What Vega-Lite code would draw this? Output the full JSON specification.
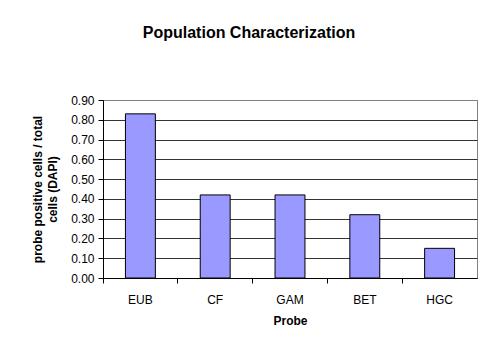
{
  "$schema": "https://vega.github.io/schema/vega-lite/v6.json",
  "autosize": "none",
  "width": 374,
  "height": 178,
  "padding": {"left": 103, "top": 100, "right": 6, "bottom": 65},
  "background": "white",
  "title": {
    "text": "Population Characterization",
    "font": "Liberation Sans",
    "fontSize": 16,
    "fontWeight": "bold",
    "color": "black",
    "anchor": "middle",
    "dx": -41,
    "offset": 53
  },
  "config": {
    "view": {"stroke": "#808080", "strokeWidth": 1},
    "font": "Liberation Sans"
  },
  "data": {
    "values": [
      {"probe": "EUB", "ratio": 0.83},
      {"probe": "CF", "ratio": 0.42},
      {"probe": "GAM", "ratio": 0.42},
      {"probe": "BET", "ratio": 0.32},
      {"probe": "HGC", "ratio": 0.15}
    ]
  },
  "mark": {"type": "bar", "fill": "#9999FF", "stroke": "black", "strokeWidth": 1, "width": {"band": 0.4}},
  "encoding": {
    "x": {
      "field": "probe",
      "type": "nominal",
      "sort": null,
      "scale": {"paddingInner": 0, "paddingOuter": 0},
      "axis": {
        "title": "Probe",
        "titleFont": "Liberation Sans",
        "titleFontSize": 12,
        "titleFontWeight": "bold",
        "titleColor": "black",
        "titlePadding": 10,
        "labelFont": "Liberation Sans",
        "labelFontSize": 12,
        "labelColor": "black",
        "labelAngle": 0,
        "labelPadding": 11,
        "bandPosition": 0,
        "ticks": true,
        "tickColor": "black",
        "tickSize": 5,
        "domainColor": "black",
        "grid": false
      }
    },
    "y": {
      "field": "ratio",
      "type": "quantitative",
      "scale": {"domain": [0, 0.9], "nice": false},
      "axis": {
        "title": ["probe positive cells / total", "cells (DAPI)"],
        "titleFont": "Liberation Sans",
        "titleFontSize": 12,
        "titleFontWeight": "bold",
        "titleColor": "black",
        "titleLineHeight": 15,
        "titlePadding": 11,
        "labelFont": "Liberation Sans",
        "labelFontSize": 12,
        "labelColor": "black",
        "labelPadding": 4,
        "format": ".2f",
        "values": [0, 0.1, 0.2, 0.3, 0.4, 0.5, 0.6, 0.7, 0.8, 0.9],
        "tickColor": "black",
        "tickSize": 5,
        "domainColor": "black",
        "grid": true,
        "gridColor": {"condition": {"test": "datum.value >= 0.9", "value": "#808080"}, "value": "#333333"},
        "gridOpacity": 1
      }
    }
  }
}
